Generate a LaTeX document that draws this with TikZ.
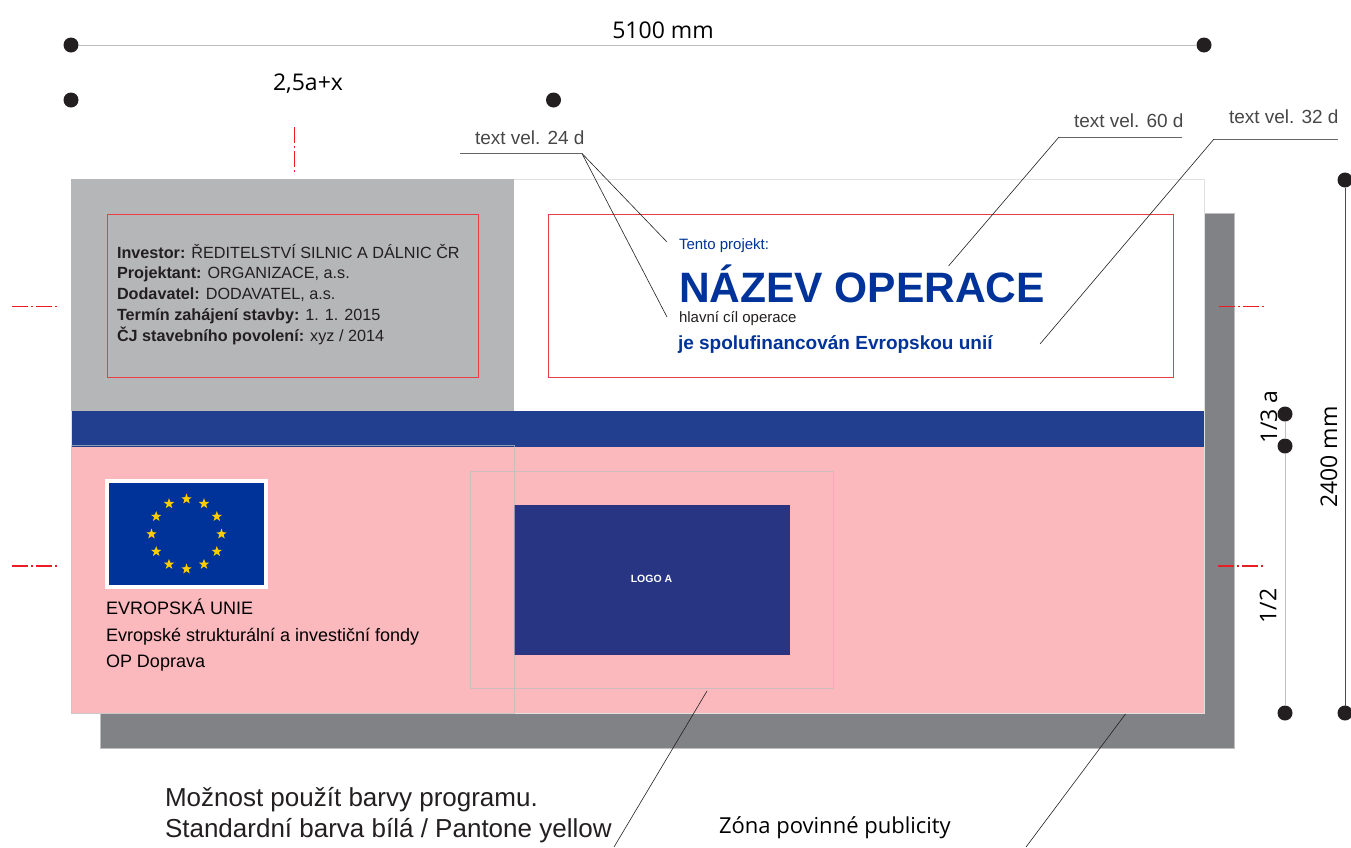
\documentclass[tikz,border=0pt]{standalone}
\usepackage{fontspec}
\setmainfont{Liberation Sans}
\newfontfamily\dimfont{Open Sans}
\usetikzlibrary{shapes.geometric}

\definecolor{shadowgray}{HTML}{808285}
\definecolor{panelgray}{HTML}{B5B6B8}
\definecolor{barblue}{HTML}{223E8E}
\definecolor{logoblue}{HTML}{283583}
\definecolor{flagblue}{HTML}{003399}
\definecolor{titleblue}{HTML}{003399}
\definecolor{zonepink}{HTML}{FBB8BD}
\definecolor{markred}{HTML}{ED1C24}
\definecolor{framered}{HTML}{EE3B45}
\definecolor{staryellow}{HTML}{FFCC00}
\definecolor{inktext}{HTML}{231F20}

\tikzset{
  panel/.style={anchor=north west,inner sep=0pt,outer sep=0pt},
  redframe/.style={panel,draw=framered,line width=0.8pt},
  ghost/.style={panel,draw=black!25,draw opacity=0.7,line width=0.7pt},
  dimdot/.style={circle,fill=inktext,inner sep=0pt,outer sep=0pt,minimum size=15pt},
  eustar/.style={star,star points=5,star point ratio=2.5,fill=staryellow,inner sep=0pt,minimum size=11pt},
  txt/.style={anchor=base west,inner sep=0pt,outer sep=0pt},
  dimtxt/.style={inner sep=0pt,outer sep=0pt,font=\dimfont\fontsize{23}{23}\selectfont,text=black},
  notetxt/.style={txt,font=\fontsize{19}{19}\selectfont,text=black!72},
  leader/.style={draw=inktext,line width=0.6pt},
  redmark/.style={draw=markred,line width=1.6pt,dash pattern=on 16pt off 3pt on 2pt off 3pt},
}

\begin{document}
\begin{tikzpicture}[x=1pt,y=-1pt]
    \useasboundingbox (0,0) rectangle (1351,847);

    % sign panels
    \node[panel,fill=shadowgray,draw=black!25,line width=0.6pt,minimum width=1134pt,minimum height=535pt] (shadow) at (100,213) {};
    \node[panel,fill=white,draw=black!12,line width=0.8pt,minimum width=1133pt,minimum height=534pt] (sign) at (71,179) {};
    \node[panel,fill=panelgray,minimum width=443pt,minimum height=232pt] (grey) at (71,179) {};
    \node[panel,fill=zonepink,minimum width=1132pt,minimum height=266pt] (zone) at (72,447) {};
    \node[panel,fill=barblue,minimum width=1132pt,minimum height=36pt] (bar) at (72,411) {};
    \node[redframe,minimum width=371pt,minimum height=163pt] (framel) at (107.5,214) {};
    \node[redframe,minimum width=625pt,minimum height=163pt] (framer) at (548,214) {};

    % logo area
    \node[panel,fill=logoblue,minimum width=276pt,minimum height=150pt] (logo) at (514,505) {};
    \node[ghost,minimum width=363pt,minimum height=217pt] (logozone) at (470,471) {};
    \node[ghost,minimum width=443pt,minimum height=268pt] (euzone) at (71,445) {};
    \node[inner sep=0pt,text=white,font=\bfseries\fontsize{10.5}{10.5}\selectfont] (logotxt) at (651.5,578.5) {LOGO A};

    % flag
    \node[panel,fill=flagblue,draw=white,line width=4.5pt,minimum width=159pt,minimum height=106pt] (flag) at (107,481) {};
    \foreach \a in {0,30,...,330}
        \node[eustar] (star\a) at ([shift=(\a:35pt)]flag.center) {};

    % texts
    \node[panel,align=left,text=inktext,font=\fontsize{16.2}{20.8}\selectfont] (investor) at (117,244) {%
        \textbf{Investor:} ŘEDITELSTVÍ SILNIC A DÁLNIC ČR\\
        \textbf{Projektant:} ORGANIZACE, a.s.\\
        \textbf{Dodavatel:} DODAVATEL, a.s.\\
        \textbf{Termín zahájení stavby:} 1. 1. 2015\\
        \textbf{ČJ stavebního povolení:} xyz / 2014};
    \node[txt,text=titleblue,font=\fontsize{15}{15}\selectfont] (tento) at (679,249) {Tento projekt:};
    \node[txt,text=titleblue,font=\bfseries\fontsize{42.5}{42.5}\selectfont] (nazev) at (679,302) {NÁZEV OPERACE};
    \node[txt,text=inktext,font=\fontsize{15}{15}\selectfont] (hlavni) at (679,322) {hlavní cíl operace};
    \node[txt,text=titleblue,font=\bfseries\fontsize{19}{19}\selectfont] (spolu) at (678,349) {je spolufinancován Evropskou unií};
    \node[panel,align=left,text=black,font=\fontsize{18}{26.5}\selectfont] (eutxt) at (106,599) {%
        EVROPSKÁ UNIE\\
        Evropské strukturální a investiční fondy\\
        OP Doprava};
    \node[panel,align=left,text=inktext,font=\fontsize{26}{31.5}\selectfont] (moznost) at (165,787) {%
        Možnost použít barvy programu.\\
        Standardní barva bílá / Pantone yellow};
    \node[txt,text=black,font=\dimfont\fontsize{22}{22}\selectfont] (povinna) at (719,833) {Zóna povinné publicity};

    % dimensions
    \node[dimdot] (w1) at (71,45) {};
    \node[dimdot] (w2) [right of=w1,node distance=1133pt] {};
    \node[dimdot] (a1) at (71,100) {};
    \node[dimdot] (a2) [right of=a1,node distance=482.5pt] {};
    \node[dimdot] (h1) at (1345,180) {};
    \node[dimdot] (h2) at (1345,713) {};
    \node[dimdot] (t1) at (1285,414) {};
    \node[dimdot] (t2) at (1285,446) {};
    \node[dimdot] (t3) at (1285,713) {};
    \draw[draw=black!25,line width=1pt] (w1) -- (w2);
    \draw[draw=black!70,line width=1pt] (h1) -- (h2);
    \draw[draw=black!25,line width=0.8pt] (t1) -- (t2);
    \draw[draw=black!25,line width=0.8pt] (t2) -- (t3);
    \node[dimtxt] (l5100) at (663,30) {5100 mm};
    \node[dimtxt] (l25a) at (308,84) {2,5a+x};
    \node[dimtxt,rotate=90] (l2400) at (1329,457) {2400 mm};
    \node[dimtxt,rotate=90] (lthird) at (1269,417) {1/3 a};
    \node[dimtxt,rotate=90] (lhalf) at (1268,606) {1/2};

    % centre marks
    \coordinate (mt1) at (294.5,127);
    \coordinate (mt2) at (294.5,172);
    \coordinate (ml1a) at (11.5,306.5);
    \coordinate (ml1b) at (57,306.5);
    \coordinate (mr1a) at (1219,306.5);
    \coordinate (mr1b) at (1264,306.5);
    \coordinate (ml2a) at (11.5,566);
    \coordinate (ml2b) at (57,566);
    \coordinate (mr2a) at (1218,566);
    \coordinate (mr2b) at (1264,566);
    \draw[redmark] (mt1) -- (mt2);
    \draw[redmark] (ml1a) -- (ml1b);
    \draw[redmark] (mr1a) -- (mr1b);
    \draw[redmark] (ml2a) -- (ml2b);
    \draw[redmark] (mr2a) -- (mr2b);

    % notes
    \node[notetxt] (n24) at (475,144) {text vel. 24 d};
    \node[notetxt] (n60) at (1074,127) {text vel. 60 d};
    \node[notetxt] (n32) at (1229,123) {text vel. 32 d};
    \coordinate (n24a) at (460,153.5);
    \coordinate (n24b) at (582,153.5);
    \coordinate (n24c) at (667,242);
    \coordinate (n24d) at (667,317);
    \coordinate (n60a) at (1182,137);
    \coordinate (n60b) at (1059,137);
    \coordinate (n60c) at (948.5,266);
    \coordinate (n32a) at (1338,139);
    \coordinate (n32b) at (1214,139);
    \coordinate (n32c) at (1040,344);
    \coordinate (logotip) at (707,691);
    \coordinate (logoend) at (614,847);
    \coordinate (zonetip) at (1125.5,714);
    \coordinate (zoneend) at (1026,847);
    \draw[draw=black!60,line width=0.9pt] (n24a) -- (n24b);
    \draw[leader] (n24b) -- (n24c);
    \draw[leader] (n24b) -- (n24d);
    \draw[draw=black!60,line width=0.9pt] (n60a) -- (n60b);
    \draw[leader] (n60b) -- (n60c);
    \draw[draw=black!60,line width=0.9pt] (n32a) -- (n32b);
    \draw[leader] (n32b) -- (n32c);
    \draw[leader] (logotip) -- (logoend);
    \draw[leader] (zonetip) -- (zoneend);
\end{tikzpicture}
\end{document}
